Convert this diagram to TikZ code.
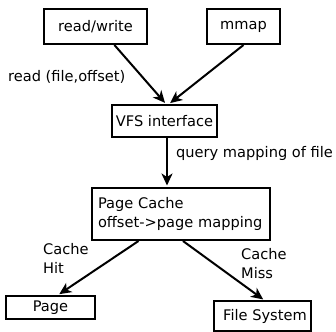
\documentclass[tikz,border=0pt]{standalone}
\usepackage{fontspec}
\setmainfont{DejaVu Sans}
\usetikzlibrary{arrows.meta,calc}
\begin{document}
\begin{tikzpicture}[x=1pt,y=-1pt,
  font=\fontsize{14.6}{18.5}\selectfont,
  box/.style={draw,line width=2pt,inner sep=0pt,anchor=north west},
  arr/.style={line width=2pt,-{Stealth[length=12pt,width=11pt,inset=3.5pt]}},
  lbl/.style={inner sep=0pt,anchor=base west,align=left}]
\useasboundingbox (0,0) rectangle (336,331);
\node[box,minimum width=103pt,minimum height=35pt] (rw) at (43,8) {read/write};
\node[box,minimum width=73pt,minimum height=35pt] (mm) at (206,8) {mmap};
\node[box,minimum width=105pt,minimum height=32pt] (vfs) at (111,104) {VFS interface};
\node[box,minimum width=178pt,minimum height=52pt,text width=166pt,align=left] (pc) at (91,187) {Page Cache\\offset->page mapping};
\node[box,minimum width=89pt,minimum height=23pt] (pg) at (5,295) {Page\hspace{10pt}};
\node[box,minimum width=97pt,minimum height=30pt] (fs) at (213,300) {\hspace{5pt}File System};
\node[lbl] (l1) at (8,82) {read (file,offset)};
\node[lbl] (l2) at (176,157) {query mapping of file};
\node[lbl] (l3) at (43,273) {Cache\\Hit};
\node[lbl] (l4) at (241,278) {Cache\\Miss};
\draw[arr,shorten >=1.5pt] ($(rw.south west)!0.68!(rw.south east)$) -- ($(vfs.north)+(1.5,0)$);
\draw[arr,shorten >=1.5pt] (mm.south) -- ($(vfs.north)+(4.5,0)$);
\coordinate (v1) at ($(vfs.south)+(2.5,0)$);
\draw[arr,shorten >=1.5pt] (v1) -- (v1 |- pc.north);
\draw[arr,shorten >=1.5pt] ($(pc.south west)!0.264!(pc.south east)$) -- ($(pg.north)+(7.5,0)$);
\draw[arr,shorten >=1pt] ($(pc.south west)!0.511!(pc.south east)$) -- ($(fs.north)+(1.5,0)$);
\end{tikzpicture}
\end{document}
